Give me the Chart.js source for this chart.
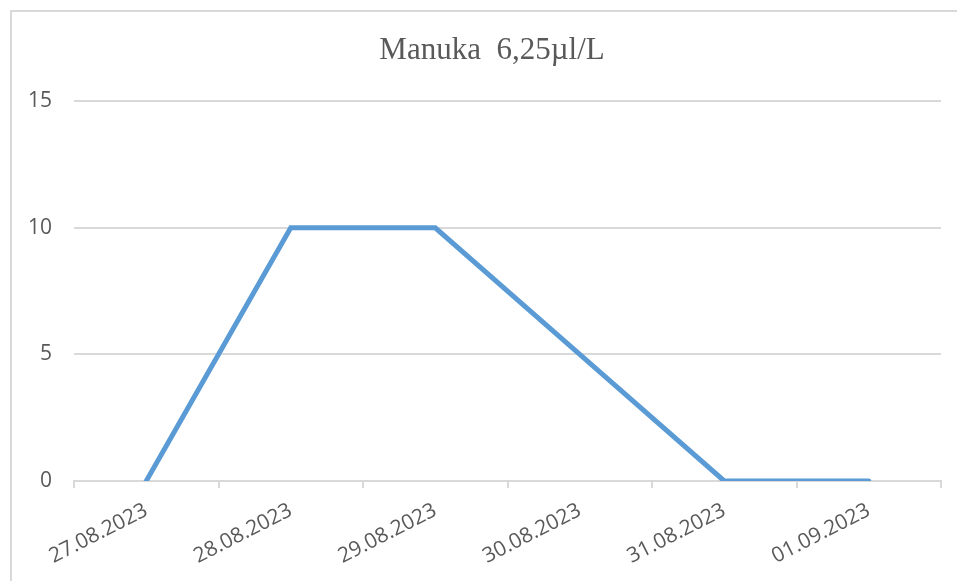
<!DOCTYPE html>
<html>
<head>
<meta charset="utf-8">
<script src="https://cdn.jsdelivr.net/npm/chart.js@4"></script>
<style>
  body { margin: 0; background: #fff; }
  #wrap { position: relative; width: 957px; height: 581px; overflow: hidden; }
  #frame { position: absolute; left: 10px; top: 10px; width: 1000px; height: 1000px;
           border-top: 2px solid #d9d9d9; border-left: 2px solid #d9d9d9; }
  #chart { position: absolute; left: 0; top: 0; }
</style>
</head>
<body>
<div id="wrap">
  <div id="frame"></div>
  <canvas id="chart" width="957" height="581"></canvas>
</div>
<script>
// dates on the x axis
const dates = ["27.08.2023", "28.08.2023", "29.08.2023", "30.08.2023", "31.08.2023", "01.09.2023"];
// measured values
const manuka = [0, 10, 10, 5, 0, 0];
// y axis range
const yMax = 15;
const yStep = 5;

const textGrey = "#595959";
const gridGrey = "#d9d9d9";

// the title in the original is centred a bit right of the whole plot, move its box
const titleShift = {
  id: "titleShift",
  afterLayout(chart) {
    if (chart.titleBlock) chart.titleBlock.left = 43;
  },
};

const data = {
  labels: dates,
  datasets: [
    {
      label: "Manuka 6,25µl/L",
      data: manuka,
      borderColor: "#5b9bd5",
      backgroundColor: "#5b9bd5",
      borderWidth: 5,
      borderCapStyle: "round",
      pointRadius: 0,
      tension: 0,
    },
  ],
};

const config = {
  type: "line",
  data: data,
  plugins: [titleShift],
  options: {
    responsive: false,
    animation: false,
    layout: { padding: { left: 10, right: 16, top: 0, bottom: 0 } },
    plugins: {
      legend: { display: false },
      tooltip: { enabled: false },
      title: {
        display: true,
        text: "Manuka  6,25µl/L",
        color: textGrey,
        font: { family: "'Liberation Serif', 'Times New Roman', serif", size: 31, weight: "normal" },
        padding: { top: 32, bottom: 32 },
      },
    },
    scales: {
      x: {
        offset: true,
        grid: { offset: true, drawOnChartArea: false, color: gridGrey, tickLength: 7, lineWidth: 2 },
        border: { color: gridGrey, width: 2 },
        ticks: {
          color: textGrey,
          font: { family: "'Open Sans', sans-serif", size: 21 },
          minRotation: 27,
          maxRotation: 27,
          padding: 10,
          autoSkip: false,
        },
        afterFit: (scale) => { scale.height = 100; },
      },
      y: {
        min: 0,
        max: yMax,
        grid: { color: gridGrey, drawTicks: false, lineWidth: 2 },
        border: { display: false },
        ticks: {
          stepSize: yStep,
          color: textGrey,
          font: { family: "'Open Sans', sans-serif", size: 21 },
          padding: 22,
        },
        afterFit: (scale) => { scale.width = 64; },
      },
    },
  },
};

const chart = new Chart(document.getElementById("chart"), config);
</script>
</body>
</html>
